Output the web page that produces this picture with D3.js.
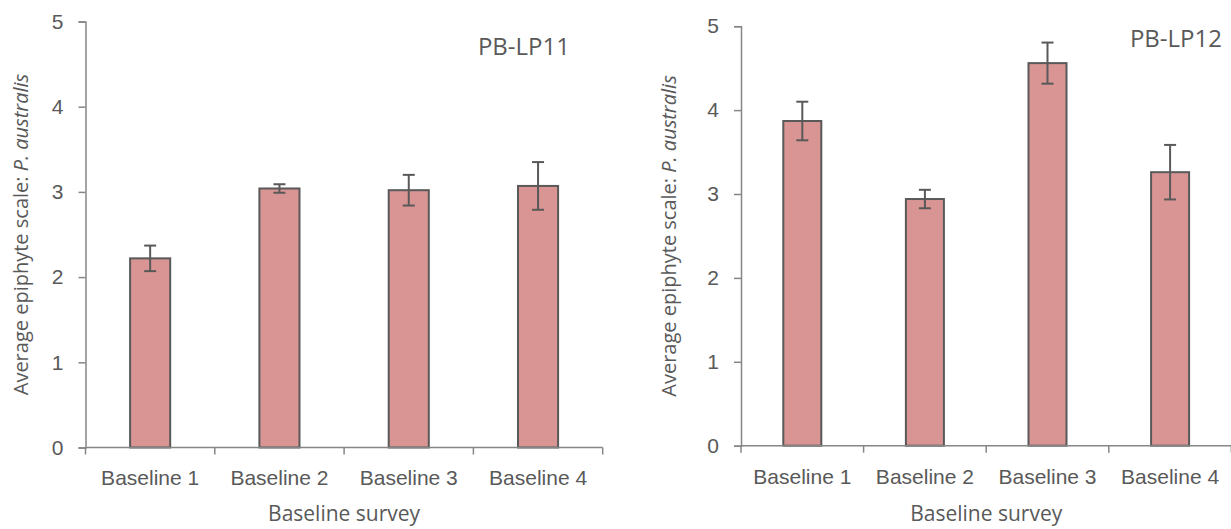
<!DOCTYPE html>
<html>
<head>
<meta charset="utf-8">
<script src="https://cdn.jsdelivr.net/npm/d3@7"></script>
<style>
  body { margin: 0; background: #fff; }
  svg { display: block; font-family: "Open Sans", sans-serif; }
</style>
</head>
<body>
<svg id="chart" width="1231" height="529"></svg>
<script>
// data
var categories = ["Baseline 1", "Baseline 2", "Baseline 3", "Baseline 4"];
var lp11Means = [2.22, 3.04, 3.02, 3.07];
var lp11Errors = [0.15, 0.05, 0.18, 0.28];
var lp12Means = [3.87, 2.94, 4.56, 3.26];
var lp12Errors = [0.23, 0.11, 0.245, 0.325];
var yTicks = [0, 1, 2, 3, 4, 5];
var yTitle = "Average epiphyte scale: ";
var ySpecies = "P. australis";
var xTitle = "Baseline survey";

var textColor = "#595959";
var axisColor = "#868686";
var fontSize = "21px";

var svg = d3.select("#chart");

function drawPanel(name, means, errors, left, right, bottom, top, titleX, labelX, labelY) {
    var g = svg.append("g");

    var x = d3.scaleBand()
        .domain(categories)
        .range([left, right])
        .paddingInner(0.69)
        .paddingOuter(0.345);

    var y = d3.scaleLinear()
        .domain([0, 5])
        .range([bottom, top]);

    // y axis
    var yAxis = d3.axisLeft(y)
        .tickValues(yTicks)
        .tickSize(7)
        .tickPadding(15)
        .tickFormat(d3.format("d"));

    var ya = g.append("g")
        .attr("transform", "translate(" + left + ",0)")
        .call(yAxis);
    ya.select(".domain").attr("stroke", axisColor).attr("stroke-width", 1.5);
    ya.selectAll(".tick line").attr("stroke", axisColor).attr("stroke-width", 1.5);
    ya.selectAll(".tick text")
        .attr("fill", textColor)
        .style("font-size", fontSize);

    // bars
    var data = categories.map(function(c, i) { return {cat: c, mean: means[i], err: errors[i]}; });

    g.selectAll("rect.bar")
        .data(data)
        .enter().append("rect")
        .attr("class", "bar")
        .attr("x", function(d) { return x(d.cat); })
        .attr("width", x.bandwidth())
        .attr("y", function(d) { return y(d.mean); })
        .attr("height", function(d) { return y(0) - y(d.mean); })
        .attr("fill", "#D99594")
        .attr("stroke", "#595959")
        .attr("stroke-width", 2);

    // error bars
    var cap = 6;
    var eb = g.selectAll("g.err")
        .data(data)
        .enter().append("g")
        .attr("class", "err")
        .attr("stroke", "#595959")
        .attr("stroke-width", 2);
    eb.append("line")
        .attr("x1", function(d) { return x(d.cat) + x.bandwidth() / 2; })
        .attr("x2", function(d) { return x(d.cat) + x.bandwidth() / 2; })
        .attr("y1", function(d) { return y(d.mean - d.err); })
        .attr("y2", function(d) { return y(d.mean + d.err); });
    eb.append("line")
        .attr("x1", function(d) { return x(d.cat) + x.bandwidth() / 2 - cap; })
        .attr("x2", function(d) { return x(d.cat) + x.bandwidth() / 2 + cap; })
        .attr("y1", function(d) { return y(d.mean + d.err); })
        .attr("y2", function(d) { return y(d.mean + d.err); });
    eb.append("line")
        .attr("x1", function(d) { return x(d.cat) + x.bandwidth() / 2 - cap; })
        .attr("x2", function(d) { return x(d.cat) + x.bandwidth() / 2 + cap; })
        .attr("y1", function(d) { return y(d.mean - d.err); })
        .attr("y2", function(d) { return y(d.mean - d.err); });

    // x axis: labels under categories, ticks between them
    var xAxis = d3.axisBottom(x).tickSize(0).tickPadding(23);
    var xa = g.append("g")
        .attr("transform", "translate(0," + bottom + ")")
        .call(xAxis);
    xa.select(".domain").remove();
    xa.selectAll(".tick text")
        .attr("fill", textColor)
        .style("font-size", fontSize);

    g.append("line")
        .attr("x1", left).attr("x2", right)
        .attr("y1", bottom).attr("y2", bottom)
        .attr("stroke", axisColor).attr("stroke-width", 1.5);

    g.selectAll("line.xtick")
        .data(d3.range(categories.length + 1))
        .enter().append("line")
        .attr("class", "xtick")
        .attr("x1", function(i) { return left + i * x.step(); })
        .attr("x2", function(i) { return left + i * x.step(); })
        .attr("y1", bottom)
        .attr("y2", bottom + 7)
        .attr("stroke", axisColor).attr("stroke-width", 1.5);

    // axis titles
    g.append("text")
        .attr("x", (left + right) / 2)
        .attr("y", 521)
        .attr("text-anchor", "middle")
        .attr("fill", textColor)
        .style("font-size", fontSize)
        .text(xTitle);

    var yt = g.append("text")
        .attr("transform", "translate(" + titleX + "," + ((top + bottom) / 2) + ") rotate(-90)")
        .attr("text-anchor", "middle")
        .attr("fill", textColor)
        .style("font-size", "20px");
    yt.append("tspan").text(yTitle);
    yt.append("tspan").attr("font-style", "italic").text(ySpecies);

    // panel label
    g.append("text")
        .attr("x", labelX)
        .attr("y", labelY)
        .attr("text-anchor", "end")
        .attr("fill", textColor)
        .style("font-size", "24px")
        .text(name);
}

drawPanel("PB-LP11", lp11Means, lp11Errors, 85.5, 602.7, 447.5, 21.5, 28, 570, 55);
drawPanel("PB-LP12", lp12Means, lp12Errors, 741, 1231.4, 445.7, 26.2, 676, 1222, 47);
</script>
</body>
</html>
